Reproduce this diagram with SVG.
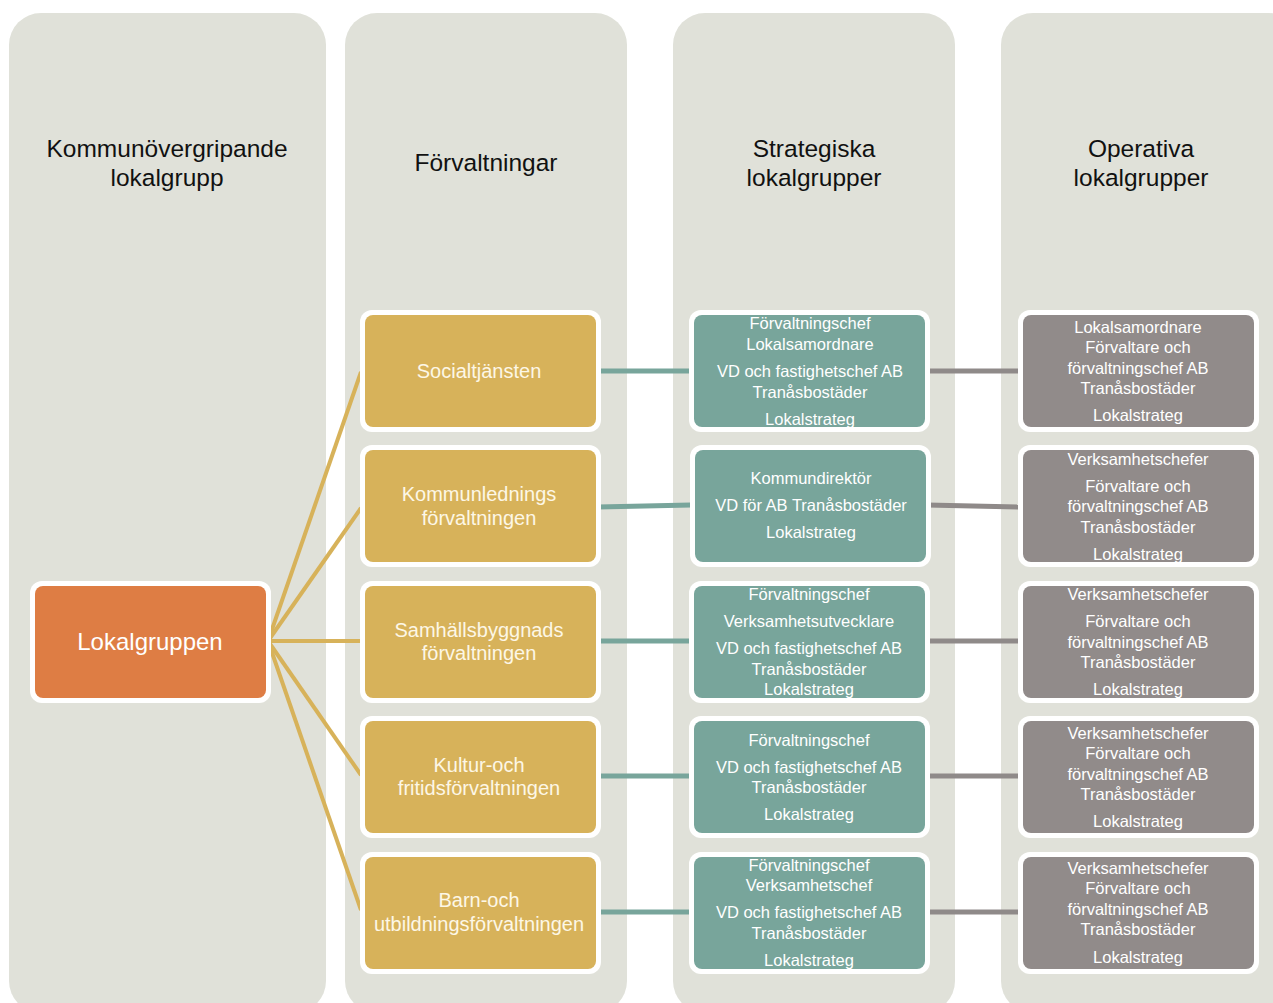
<svg xmlns="http://www.w3.org/2000/svg" width="1273" height="1003" viewBox="0 0 1273 1003">
<style>
.col{fill:#e0e1d9}
.hd{font-family:"Liberation Sans",Arial,sans-serif;font-size:24.5px;fill:#111;text-anchor:middle}
.frame{fill:#fff}
.or{fill:#de7d44}
.ye{fill:#d7b25a}
.te{fill:#78a59b}
.gr{fill:#918b8a}
.t1{font-family:"Liberation Sans",Arial,sans-serif;font-size:24px;fill:#fff;text-anchor:middle}
.t2{font-family:"Liberation Sans",Arial,sans-serif;font-size:20px;fill:#fdf7e6;text-anchor:middle}
.t3{font-family:"Liberation Sans",Arial,sans-serif;font-size:16.5px;fill:#fff;text-anchor:middle}
.cy{stroke:#d7b25a;stroke-width:4;fill:none}
.ct{stroke:#78a59b;stroke-width:5;fill:none}
.cg{stroke:#8f8a89;stroke-width:5;fill:none}
</style>
<rect width="1273" height="1003" fill="#fff"/>
<g id="columns">
<rect class="col" x="9" y="13" width="317" height="1000" rx="32"/>
<rect class="col" x="345" y="13" width="282" height="1000" rx="32"/>
<rect class="col" x="673" y="13" width="282" height="1000" rx="32"/>
<rect class="col" x="1001" y="13" width="300" height="1000" rx="32"/>
<text class="hd" x="167" y="157">Kommunövergripande</text>
<text class="hd" x="167" y="186">lokalgrupp</text>
<text class="hd" x="486" y="171">Förvaltningar</text>
<text class="hd" x="814" y="157">Strategiska</text>
<text class="hd" x="814" y="186">lokalgrupper</text>
<text class="hd" x="1141" y="157">Operativa</text>
<text class="hd" x="1141" y="186">lokalgrupper</text>
</g>
<g id="connectors">
<line class="cy" x1="268" y1="641" x2="361" y2="372"/>
<line class="cy" x1="268" y1="641" x2="361" y2="508"/>
<line class="cy" x1="268" y1="641" x2="361" y2="641"/>
<line class="cy" x1="268" y1="641" x2="361" y2="775"/>
<line class="cy" x1="268" y1="641" x2="361" y2="910"/>
<line class="ct" x1="598" y1="371" x2="691" y2="371"/>
<line class="ct" x1="598" y1="507" x2="691" y2="505"/>
<line class="ct" x1="598" y1="641" x2="691" y2="641"/>
<line class="ct" x1="598" y1="776" x2="691" y2="776"/>
<line class="ct" x1="598" y1="912" x2="691" y2="912"/>
<line class="cg" x1="927" y1="371" x2="1020" y2="371"/>
<line class="cg" x1="927" y1="505" x2="1020" y2="507"/>
<line class="cg" x1="927" y1="641" x2="1020" y2="641"/>
<line class="cg" x1="927" y1="776" x2="1020" y2="776"/>
<line class="cg" x1="927" y1="912" x2="1020" y2="912"/>
</g>
<g id="lokalgruppen">
<rect class="frame" x="30" y="581" width="241" height="122" rx="12"/>
<rect class="or" x="35" y="586" width="231" height="112" rx="8"/>
<text class="t1" x="150" y="650">Lokalgruppen</text>
</g>
<g id="socialtjansten">
<rect class="frame" x="360" y="310" width="241" height="122" rx="12"/>
<rect class="ye" x="365" y="315" width="231" height="112" rx="8"/>
<text class="t2" x="479" y="378">Socialtjänsten</text>
</g>
<g id="kommunledning">
<rect class="frame" x="360" y="445" width="241" height="122" rx="12"/>
<rect class="ye" x="365" y="450" width="231" height="112" rx="8"/>
<text class="t2" x="479" y="501">Kommunlednings</text>
<text class="t2" x="479" y="525">förvaltningen</text>
</g>
<g id="samhallsbyggnad">
<rect class="frame" x="360" y="581" width="241" height="122" rx="12"/>
<rect class="ye" x="365" y="586" width="231" height="112" rx="8"/>
<text class="t2" x="479" y="637">Samhällsbyggnads</text>
<text class="t2" x="479" y="660">förvaltningen</text>
</g>
<g id="kultur">
<rect class="frame" x="360" y="716" width="241" height="122" rx="12"/>
<rect class="ye" x="365" y="721" width="231" height="112" rx="8"/>
<text class="t2" x="479" y="772">Kultur-och</text>
<text class="t2" x="479" y="795">fritidsförvaltningen</text>
</g>
<g id="barn">
<rect class="frame" x="360" y="852" width="241" height="122" rx="12"/>
<rect class="ye" x="365" y="857" width="231" height="112" rx="8"/>
<text class="t2" x="479" y="907">Barn-och</text>
<text class="t2" x="479" y="931">utbildningsförvaltningen</text>
</g>
<g id="strat1">
<rect class="frame" x="689" y="310" width="241" height="122" rx="12"/>
<rect class="te" x="694" y="315" width="231" height="112" rx="8"/>
<text class="t3" x="810" y="329">Förvaltningschef</text>
<text class="t3" x="810" y="350">Lokalsamordnare</text>
<text class="t3" x="810" y="377">VD och fastighetschef AB</text>
<text class="t3" x="810" y="398">Tranåsbostäder</text>
<text class="t3" x="810" y="425">Lokalstrateg</text>
</g>
<g id="strat2">
<rect class="frame" x="690" y="445" width="241" height="122" rx="12"/>
<rect class="te" x="695" y="450" width="231" height="112" rx="8"/>
<text class="t3" x="811" y="484">Kommundirektör</text>
<text class="t3" x="811" y="511">VD för AB Tranåsbostäder</text>
<text class="t3" x="811" y="538">Lokalstrateg</text>
</g>
<g id="strat3">
<rect class="frame" x="689" y="581" width="241" height="122" rx="12"/>
<rect class="te" x="694" y="586" width="231" height="112" rx="8"/>
<text class="t3" x="809" y="600">Förvaltningschef</text>
<text class="t3" x="809" y="627">Verksamhetsutvecklare</text>
<text class="t3" x="809" y="654">VD och fastighetschef AB</text>
<text class="t3" x="809" y="675">Tranåsbostäder</text>
<text class="t3" x="809" y="695">Lokalstrateg</text>
</g>
<g id="strat4">
<rect class="frame" x="689" y="716" width="241" height="122" rx="12"/>
<rect class="te" x="694" y="721" width="231" height="112" rx="8"/>
<text class="t3" x="809" y="746">Förvaltningschef</text>
<text class="t3" x="809" y="773">VD och fastighetschef AB</text>
<text class="t3" x="809" y="793">Tranåsbostäder</text>
<text class="t3" x="809" y="820">Lokalstrateg</text>
</g>
<g id="strat5">
<rect class="frame" x="689" y="852" width="241" height="122" rx="12"/>
<rect class="te" x="694" y="857" width="231" height="112" rx="8"/>
<text class="t3" x="809" y="871">Förvaltningschef</text>
<text class="t3" x="809" y="891">Verksamhetschef</text>
<text class="t3" x="809" y="918">VD och fastighetschef  AB</text>
<text class="t3" x="809" y="939">Tranåsbostäder</text>
<text class="t3" x="809" y="966">Lokalstrateg</text>
</g>
<g id="oper1">
<rect class="frame" x="1018" y="310" width="241" height="122" rx="12"/>
<rect class="gr" x="1023" y="315" width="231" height="112" rx="8"/>
<text class="t3" x="1138" y="333">Lokalsamordnare</text>
<text class="t3" x="1138" y="353">Förvaltare och</text>
<text class="t3" x="1138" y="374">förvaltningschef AB</text>
<text class="t3" x="1138" y="394">Tranåsbostäder</text>
<text class="t3" x="1138" y="421">Lokalstrateg</text>
</g>
<g id="oper2">
<rect class="frame" x="1018" y="445" width="241" height="122" rx="12"/>
<rect class="gr" x="1023" y="450" width="231" height="112" rx="8"/>
<text class="t3" x="1138" y="465">Verksamhetschefer</text>
<text class="t3" x="1138" y="492">Förvaltare och</text>
<text class="t3" x="1138" y="512">förvaltningschef AB</text>
<text class="t3" x="1138" y="533">Tranåsbostäder</text>
<text class="t3" x="1138" y="560">Lokalstrateg</text>
</g>
<g id="oper3">
<rect class="frame" x="1018" y="581" width="241" height="122" rx="12"/>
<rect class="gr" x="1023" y="586" width="231" height="112" rx="8"/>
<text class="t3" x="1138" y="600">Verksamhetschefer</text>
<text class="t3" x="1138" y="627">Förvaltare och</text>
<text class="t3" x="1138" y="648">förvaltningschef AB</text>
<text class="t3" x="1138" y="668">Tranåsbostäder</text>
<text class="t3" x="1138" y="695">Lokalstrateg</text>
</g>
<g id="oper4">
<rect class="frame" x="1018" y="716" width="241" height="122" rx="12"/>
<rect class="gr" x="1023" y="721" width="231" height="112" rx="8"/>
<text class="t3" x="1138" y="739">Verksamhetschefer</text>
<text class="t3" x="1138" y="759">Förvaltare och</text>
<text class="t3" x="1138" y="780">förvaltningschef  AB</text>
<text class="t3" x="1138" y="800">Tranåsbostäder</text>
<text class="t3" x="1138" y="827">Lokalstrateg</text>
</g>
<g id="oper5">
<rect class="frame" x="1018" y="852" width="241" height="122" rx="12"/>
<rect class="gr" x="1023" y="857" width="231" height="112" rx="8"/>
<text class="t3" x="1138" y="874">Verksamhetschefer</text>
<text class="t3" x="1138" y="894">Förvaltare och</text>
<text class="t3" x="1138" y="915">förvaltningschef AB</text>
<text class="t3" x="1138" y="935">Tranåsbostäder</text>
<text class="t3" x="1138" y="963">Lokalstrateg</text>
</g>
</svg>
